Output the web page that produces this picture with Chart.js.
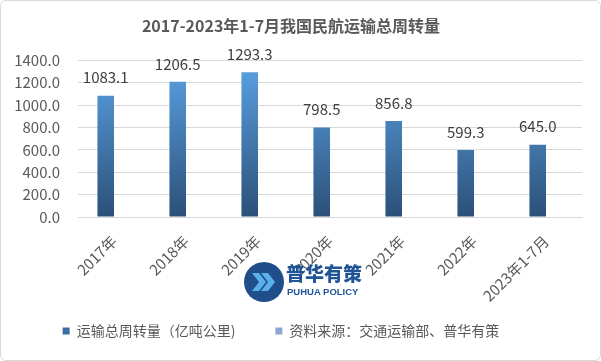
<!DOCTYPE html>
<html>
<head>
<meta charset="utf-8">
<script src="https://cdn.jsdelivr.net/npm/chart.js@4.4.1/dist/chart.umd.min.js"></script>
<style>
  html,body{margin:0;padding:0;background:#fff;}
  #wrap{position:relative;width:601px;height:361px;}
  #frame{position:absolute;left:0;top:0;width:599px;height:359px;border:1px solid #D9D9D9;border-radius:6px;pointer-events:none;}
  #logo{position:absolute;left:244px;top:262px;width:120px;height:42px;}
  #logo .t1{position:absolute;left:42px;top:0px;font-family:"Noto Sans CJK SC";font-weight:900;font-size:19px;color:#1F5597;letter-spacing:0px;line-height:22px;}
  #logo .t2{position:absolute;left:43px;top:24px;font-family:"Liberation Sans";font-weight:bold;font-size:9.5px;color:#1F5597;line-height:11px;}
</style>
</head>
<body>
<div id="wrap">
  <canvas id="c" width="601" height="361"></canvas>
  <div id="logo">
    <svg width="40" height="40" viewBox="0 0 40 40" style="position:absolute;left:0;top:0">
      <circle cx="20" cy="20" r="20" fill="#1F4E8B"/>
      <path d="M8 11 L15 11 L22 20 L15 29 L8 29 L15 20 Z" fill="#5AB0EA"/>
      <path d="M17 11 L24 11 L31 20 L24 29 L17 29 L24 20 Z" fill="#5AB0EA"/>
    </svg>
    <div class="t1">普华有策</div>
    <div class="t2">PUHUA POLICY</div>
  </div>
  <div id="frame"></div>
</div>
<script>
const categories = ['2017年','2018年','2019年','2020年','2021年','2022年','2023年1-7月'];
const turnover = [1083.1, 1206.5, 1293.3, 798.5, 856.8, 599.3, 645.0];
const sourceSeries = [null, null, null, null, null, null, null];
const yTicks = [0, 200, 400, 600, 800, 1000, 1200, 1400];
const seriesNames = ['运输总周转量（亿吨公里)', '资料来源：交通运输部、普华有策'];
const chartTitle = '2017-2023年1-7月我国民航运输总周转量';

const FONT = '"Noto Sans CJK SC", "Noto Sans", sans-serif';

function barGradient(ctx) {
  const chart = ctx.chart;
  const area = chart.chartArea;
  if (!area) return '#3F7FBF';
  const g = chart.ctx.createLinearGradient(0, area.top, 0, area.bottom);
  g.addColorStop(0, '#5BA3E6');
  g.addColorStop(1, '#2C5078');
  return g;
}

const valueLabels = {
  id: 'valueLabels',
  afterDatasetsDraw(chart) {
    const meta = chart.getDatasetMeta(0);
    const c = chart.ctx;
    c.save();
    c.font = '15px ' + FONT;
    c.fillStyle = '#404040';
    c.textAlign = 'center';
    c.textBaseline = 'middle';
    meta.data.forEach((bar, i) => {
      const v = chart.data.datasets[0].data[i];
      c.fillText(v.toFixed(1), bar.x, bar.y - 18);
    });
    c.restore();
  }
};

const legendShift = {
  id: 'legendShift',
  afterLayout(chart) {
    const lg = chart.legend;
    if (lg) { lg.left -= 10; lg.right -= 10; }
  }
};

new Chart(document.getElementById('c'), {
  type: 'bar',
  data: {
    labels: categories,
    datasets: [
      { label: seriesNames[0], data: turnover, backgroundColor: barGradient, barPercentage: 1, categoryPercentage: 0.46 },
      { label: seriesNames[1], data: sourceSeries, backgroundColor: '#8EA6D6', barPercentage: 1, categoryPercentage: 0.46 }
    ]
  },
  options: {
    responsive: false,
    animation: false,
    devicePixelRatio: 1,
    layout: { padding: { left: 0, right: 19, top: 0, bottom: 13 } },
    plugins: {
      title: {
        display: true,
        text: chartTitle,
        color: '#595959',
        font: { family: FONT, size: 16, weight: 'bold' },
        padding: { top: 16, bottom: 25 }
      },
      legend: {
        position: 'bottom',
        labels: {
          boxWidth: 7, boxHeight: 7, padding: 40,
          color: '#595959',
          font: { family: FONT, size: 14 },
          generateLabels(chart) {
            return chart.data.datasets.map((ds, i) => ({
              text: ds.label,
              fillStyle: i === 0 ? '#3A6EA5' : '#8EA6D6',
              strokeStyle: 'rgba(0,0,0,0)',
              lineWidth: 0,
              hidden: false,
              datasetIndex: i,
              fontColor: '#595959'
            }));
          }
        }
      },
      tooltip: { enabled: false }
    },
    scales: {
      x: {
        grid: { display: false },
        border: { display: true, color: '#D9D9D9' },
        afterFit(scale) { scale.height = 67; scale._computeLabelArea = () => null; },
        ticks: { color: '#595959', font: { family: FONT, size: 15 }, minRotation: 45, maxRotation: 45, padding: 7 }
      },
      y: {
        min: 0, max: 1400,
        afterBuildTicks(scale) { scale.ticks = yTicks.map(v => ({ value: v })); },
        afterFit(scale) { scale.width = 78; },
        grid: { color: '#D9D9D9', drawTicks: false },
        border: { display: false },
        ticks: { color: '#595959', font: { family: FONT, size: 15 }, padding: 18, callback: v => Number(v).toFixed(1) }
      }
    }
  },
  plugins: [valueLabels, legendShift]
});
</script>
</body>
</html>
